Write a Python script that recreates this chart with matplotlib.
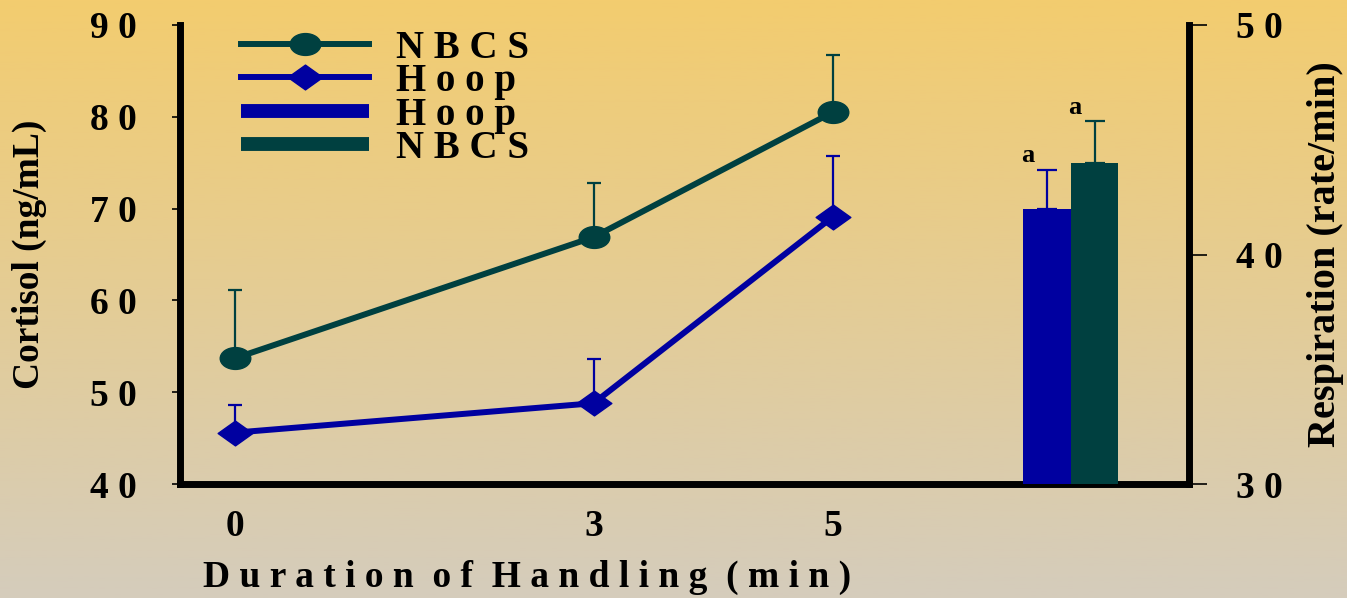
import numpy as np
import matplotlib
matplotlib.use("Agg")
import matplotlib.pyplot as plt
from matplotlib.path import Path
from matplotlib.transforms import Affine2D
from matplotlib.lines import Line2D

# ------------------------------------------------------------
# Data
# ------------------------------------------------------------
minutes = [0, 3, 5]
nbcs_cortisol = [53.7, 66.9, 80.5]
nbcs_cortisol_se = [7.4, 5.9, 6.2]
hoop_cortisol = [45.6, 48.8, 69.1]
hoop_cortisol_se = [3.0, 4.8, 6.6]

# respiration drawn as bars against the right-hand axis
resp_groups = ["Hoop", "NBCS"]
resp_pos = [6.79, 7.19]
resp_rate = [42.0, 44.0]
resp_se = [1.7, 1.8]
resp_letters = ["a", "a"]

cortisol_ticks = [40, 50, 60, 70, 80, 90]
resp_ticks = [30, 40, 50]

NBCS = "#004040"
HOOP = "#0000A0"


def spaced(s):
    return " ".join(s)


plt.rcParams["font.family"] = ["Liberation Serif", "DejaVu Serif"]
plt.rcParams["font.weight"] = "bold"
plt.rcParams["axes.labelweight"] = "bold"

fig = plt.figure(figsize=(13.47, 5.98), dpi=100)

# --- vertical gold-to-grey backdrop ---
bg = fig.add_axes([0, 0, 1, 1], zorder=-10)
top_c = np.array([243, 204, 111]) / 255
bot_c = np.array([213, 204, 188]) / 255
t = np.linspace(0, 1, 256)[:, None]
grad = top_c * (1 - t) + bot_c * t
bg.imshow(grad[:, None, :], aspect="auto", extent=[0, 1, 0, 1])
bg.axis("off")

ax = fig.add_axes([0.1336, 0.1906, 0.7491, 0.7676])
ax.patch.set_visible(False)
ax2 = ax.twinx()

# squashed markers
ellipse = Path.unit_circle().transformed(Affine2D().scale(1.4, 1.0))
diamond = Path([(-1.4, 0), (0, 1), (1.4, 0), (0, -1), (-1.4, 0)], closed=True)

# --- cortisol lines (upper error bars only) ---
ax.errorbar(minutes, nbcs_cortisol, yerr=[np.zeros(len(minutes)), nbcs_cortisol_se],
            color=NBCS, lw=4.3, marker=ellipse, ms=22, elinewidth=1.6,
            capsize=5, capthick=1.6, zorder=3)
ax.errorbar(minutes, hoop_cortisol, yerr=[np.zeros(len(minutes)), hoop_cortisol_se],
            color=HOOP, lw=4.3, marker=diamond, ms=25, elinewidth=1.6,
            capsize=5, capthick=1.6, zorder=3)

# --- respiration bars ---
bar_colors = [HOOP, NBCS]
ax2.bar(resp_pos, resp_rate, width=0.4, color=bar_colors, zorder=2)
for x, y, se, c, lab in zip(resp_pos, resp_rate, resp_se, bar_colors, resp_letters):
    ax2.errorbar([x], [y], yerr=[[0], [se]], fmt="none", ecolor=c,
                 elinewidth=1.6, capsize=7.5, capthick=1.6, zorder=3)
    ax2.annotate(lab, (x, y + se), xytext=(-14, 10), textcoords="offset points",
                 ha="center", va="center", fontsize=19, fontweight="bold")

# --- axes ---
ax.set_xlim(-0.46, 7.98)
ax.set_ylim(40, 90)
ax2.set_ylim(30, 50)

ax.set_xticks(minutes)
ax.set_xticklabels([str(m) for m in minutes])
ax.set_yticks(cortisol_ticks)
ax.set_yticklabels([spaced(str(v)) for v in cortisol_ticks])
ax2.set_yticks(resp_ticks)
ax2.set_yticklabels([spaced(str(v)) for v in resp_ticks])

for side in ("top", "right"):
    ax.spines[side].set_visible(False)
for side in ("top", "left", "bottom"):
    ax2.spines[side].set_visible(False)
ax.spines["left"].set_linewidth(5)
ax.spines["bottom"].set_linewidth(5)
ax2.spines["right"].set_linewidth(5)

ax.tick_params(axis="y", direction="out", length=6, width=1.2, pad=25, labelsize=27)
ax.tick_params(axis="x", length=0, pad=18, labelsize=27)
ax2.tick_params(axis="y", direction="out", length=13, width=1.2, pad=21, labelsize=27)

ax.set_xlabel("D u r a t i o n  o f  H a n d l i n g  ( m i n )", fontsize=27)
ax.xaxis.set_label_coords(0.344, -0.203)
ax.xaxis.label.set_va("center")

ax.set_ylabel("Cortisol (ng/mL)", fontsize=27)
ax.yaxis.set_label_coords(-0.149, 0.5)
ax.yaxis.label.set_va("center")

ax2.set_ylabel("Respiration (rate/min)", fontsize=29, rotation=90)
ax2.yaxis.set_label_coords(1.135, 0.5)
ax2.yaxis.label.set_va("center")

# --- legend ---
handles = [
    Line2D([], [], color=NBCS, lw=4.3, marker=ellipse, ms=22),
    Line2D([], [], color=HOOP, lw=4.3, marker=diamond, ms=25),
    Line2D([], [], color=HOOP, lw=10, solid_capstyle="butt"),
    Line2D([], [], color=NBCS, lw=10, solid_capstyle="butt"),
]
labels = [spaced("NBCS"), spaced("Hoop"), spaced(resp_groups[0]), spaced(resp_groups[1])]
ax.legend(handles, labels, loc="upper left", bbox_to_anchor=(0.06, 0.99),
          frameon=False, fontsize=28, handlelength=3.3, handletextpad=0.7,
          labelspacing=-0.09, borderpad=0, borderaxespad=0)

fig.savefig("out.png", dpi=100)
